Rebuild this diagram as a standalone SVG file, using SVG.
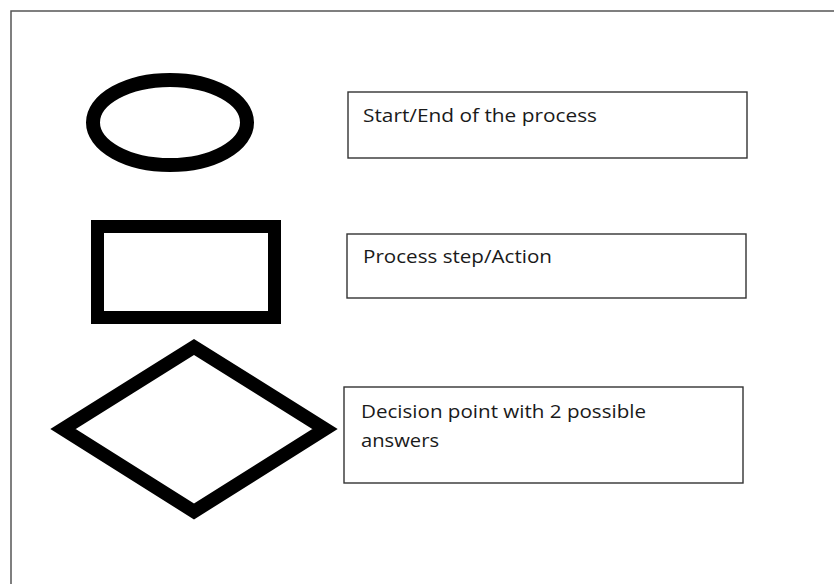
<svg xmlns="http://www.w3.org/2000/svg" width="834" height="584" viewBox="0 0 834 584">
  <style>
    .shape { fill: #ffffff; stroke: #000000; }
    .label-box { fill: #ffffff; stroke: #333333; stroke-width: 1.4; }
    .label { font-family: "Open Sans", "Noto Sans", "Liberation Sans", sans-serif; font-size: 19px; fill: #1a1a1a; }
  </style>
  <rect x="0" y="0" width="834" height="584" fill="#ffffff"/>
  <!-- outer frame, open to the right and bottom -->
  <rect id="frame" x="11" y="11" width="840" height="600" fill="none" stroke="#555555" stroke-width="1.5"/>

  <g id="terminator">
    <ellipse class="shape" cx="170" cy="122.5" rx="77" ry="42.5" stroke-width="14"/>
  </g>
  <g id="process">
    <rect class="shape" x="97.5" y="226.5" width="177" height="91" stroke-width="13"/>
  </g>
  <g id="decision">
    <polygon class="shape" points="194,347 325,429 194,511.5 63,429" stroke-width="13.5" stroke-linejoin="miter" stroke-miterlimit="10"/>
  </g>

  <g id="label-terminator">
    <rect class="label-box" x="348" y="92" width="399" height="66"/>
    <text class="label" x="363" y="122" textLength="234" lengthAdjust="spacingAndGlyphs">Start/End of the process</text>
  </g>
  <g id="label-process">
    <rect class="label-box" x="347" y="234" width="399" height="64"/>
    <text class="label" x="363" y="263" textLength="189" lengthAdjust="spacingAndGlyphs">Process step/Action</text>
  </g>
  <g id="label-decision">
    <rect class="label-box" x="344" y="387" width="399" height="96"/>
    <text class="label" x="361" y="418" textLength="285" lengthAdjust="spacingAndGlyphs">Decision point with 2 possible</text>
    <text class="label" x="361" y="447" textLength="78" lengthAdjust="spacingAndGlyphs">answers</text>
  </g>

  <g id="connectors"></g>
</svg>
